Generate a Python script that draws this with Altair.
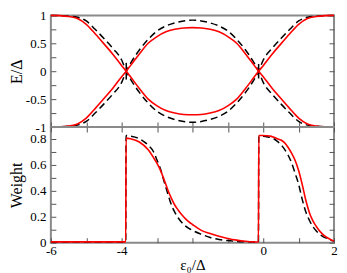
import altair as alt
import pandas as pd

# ---------------- data ----------------
# top panel: E/Delta versus eps0/Delta
x_top = [-6, -5.75, -5.5, -5.25, -5.0, -4.75, -4.5, -4.25, -4.0, -3.87, -3.75, -3.5, -3.25, -3.0,
         -2.75, -2.5, -2.25, -2.0, -1.75, -1.5, -1.25, -1.0, -0.75, -0.5, -0.25, -0.13, 0.0, 0.25,
         0.5, 0.75, 1.0, 1.25, 1.5, 1.75, 2.0]
e_red_a = [1.0, 0.995, 0.98, 0.945, 0.84, 0.67, 0.49, 0.305, 0.10, 0.0, -0.10, -0.31, -0.50, -0.62,
           -0.705, -0.75, -0.775, -0.78, -0.775, -0.75, -0.705, -0.62, -0.50, -0.31, -0.10, 0.0, 0.10,
           0.305, 0.49, 0.67, 0.84, 0.945, 0.98, 0.995, 1.0]
e_red_b = [-1.0, -0.995, -0.98, -0.945, -0.84, -0.67, -0.49, -0.305, -0.10, 0.0, 0.10, 0.31, 0.50, 0.62,
           0.705, 0.75, 0.775, 0.78, 0.775, 0.75, 0.705, 0.62, 0.50, 0.31, 0.10, 0.0, -0.10,
           -0.305, -0.49, -0.67, -0.84, -0.945, -0.98, -0.995, -1.0]
e_black_a = [1.0, 0.995, 0.985, 0.965, 0.90, 0.75, 0.585, 0.41, 0.20, 0.0, -0.14, -0.38, -0.57, -0.72,
             -0.81, -0.865, -0.90, -0.915, -0.90, -0.865, -0.81, -0.72, -0.57, -0.38, -0.14, 0.0, 0.20,
             0.41, 0.585, 0.75, 0.90, 0.965, 0.985, 0.995, 1.0]
e_black_b = [-1.0, -0.995, -0.985, -0.965, -0.90, -0.75, -0.585, -0.41, -0.20, 0.0, 0.14, 0.38, 0.57, 0.72,
             0.81, 0.865, 0.90, 0.915, 0.90, 0.865, 0.81, 0.72, 0.57, 0.38, 0.14, 0.0, -0.20,
             -0.41, -0.585, -0.75, -0.90, -0.965, -0.985, -0.995, -1.0]
# short vertical black strokes at the two crossings
x_jump_left = [-3.87, -3.87]
e_jump_left = [0.15, -0.15]
x_jump_right = [-0.13, -0.13]
e_jump_right = [0.13, -0.13]

# bottom panel: weight versus eps0/Delta
x_w_red = [-6, -5, -4.5, -3.885, -3.875, -3.75, -3.5, -3.25, -3.1, -3.0, -2.9, -2.8, -2.7, -2.6, -2.5,
           -2.4, -2.3, -2.2, -2.1, -2.0, -1.75, -1.5, -1.25, -1.0, -0.75, -0.5, -0.25, -0.135, -0.125,
           0.0, 0.1, 0.2, 0.3, 0.4, 0.5, 0.6, 0.7, 0.8, 0.9, 1.0, 1.1, 1.2, 1.3, 1.4, 1.5, 1.6, 1.7,
           1.8, 1.9, 2.0]
w_red = [0.006, 0.006, 0.006, 0.006, 0.805, 0.80, 0.775, 0.715, 0.655, 0.61, 0.555, 0.485, 0.41, 0.345,
         0.29, 0.25, 0.215, 0.185, 0.16, 0.14, 0.095, 0.07, 0.05, 0.033, 0.02, 0.011, 0.006, 0.005,
         0.825, 0.825, 0.823, 0.82, 0.812, 0.80, 0.79, 0.77, 0.735, 0.69, 0.635, 0.555, 0.45, 0.33,
         0.235, 0.17, 0.125, 0.088, 0.06, 0.04, 0.025, 0.012]
x_w_black = [-6, -5, -4.5, -3.885, -3.875, -3.75, -3.5, -3.25, -3.1, -3.0, -2.9, -2.8, -2.7, -2.6, -2.5,
             -2.4, -2.3, -2.2, -2.1, -2.0, -1.75, -1.5, -1.25, -1.0, -0.75, -0.5, -0.25, -0.135, -0.125,
             0.0, 0.1, 0.2, 0.3, 0.4, 0.5, 0.6, 0.7, 0.8, 0.9, 1.0, 1.1, 1.2, 1.3, 1.4, 1.5, 1.6, 1.7,
             1.8, 1.9, 2.0]
w_black = [0.005, 0.005, 0.005, 0.005, 0.825, 0.82, 0.80, 0.75, 0.70, 0.635, 0.565, 0.47, 0.38, 0.295,
           0.235, 0.19, 0.155, 0.13, 0.11, 0.095, 0.065, 0.04, 0.025, 0.016, 0.01, 0.007, 0.005, 0.004,
           0.82, 0.82, 0.815, 0.81, 0.80, 0.78, 0.755, 0.72, 0.675, 0.615, 0.535, 0.45, 0.335, 0.24,
           0.175, 0.125, 0.09, 0.063, 0.045, 0.033, 0.02, 0.012]

# axis tick positions / labels
x_ticks = [-6, -5, -4, -3, -2, -1, 0, 1, 2]
x_labels = [-6, -4, 0, 2]
e_ticks = [-1, -0.75, -0.5, -0.25, 0, 0.25, 0.5, 0.75, 1]
w_ticks = [0, 0.1, 0.2, 0.3, 0.4, 0.5, 0.6, 0.7, 0.8]


def rows(xs, ys, name):
    return [{"x": a, "y": b, "s": name, "i": k} for k, (a, b) in enumerate(zip(xs, ys))]


top_black = pd.DataFrame(rows(x_top, e_black_a, "ba") + rows(x_top, e_black_b, "bb"))
top_red = pd.DataFrame(rows(x_top, e_red_a, "ra") + rows(x_top, e_red_b, "rb"))
top_jump = pd.DataFrame(rows(x_jump_left, e_jump_left, "jl") + rows(x_jump_right, e_jump_right, "jr"))
bot_black = pd.DataFrame(rows(x_w_black, w_black, "wb"))
bot_red = pd.DataFrame(rows(x_w_red, w_red, "wr"))

FONT = "Liberation Serif"
RED = "#ff0000"
W = 284

x_scale = alt.Scale(domain=[-6, 2], nice=False, zero=False)
e_scale = alt.Scale(domain=[-1, 1], nice=False, zero=False)
w_scale = alt.Scale(domain=[0, 0.89], nice=False, zero=False)

tick_style = dict(domain=False, grid=False, tickSize=5, offset=-5, tickColor="#555", tickWidth=1)
y_label_style = dict(labelPadding=5, minExtent=31, maxExtent=31, titlePadding=0)

x_labels_expr = "indexof(" + str(x_labels) + ", datum.value) >= 0 ? toString(datum.value) : ''"

# ---------------- top panel ----------------
top_b = alt.Chart(top_black).mark_line(
    color="black", strokeWidth=1.5, strokeDash=[7, 4], interpolate="monotone"
).encode(
    x=alt.X("x:Q", scale=x_scale,
            axis=alt.Axis(values=x_ticks, labels=False, title=None, orient="bottom", **tick_style)),
    y=alt.Y("y:Q", scale=e_scale,
            axis=alt.Axis(values=e_ticks, orient="left", title="E/Δ",
                          labelExpr="datum.value % 0.5 == 0 ? toString(datum.value) : ''",
                          **y_label_style, **tick_style)),
    detail="s:N", order="i:Q",
)
top_j = alt.Chart(top_jump).mark_line(color="black", strokeWidth=1.5).encode(
    x=alt.X("x:Q", scale=x_scale, axis=None),
    y=alt.Y("y:Q", scale=e_scale, axis=None),
    detail="s:N", order="i:Q",
)
top_r = alt.Chart(top_red).mark_line(color=RED, strokeWidth=1.6, interpolate="monotone").encode(
    x=alt.X("x:Q", scale=x_scale, axis=None),
    y=alt.Y("y:Q", scale=e_scale,
            axis=alt.Axis(values=e_ticks, labels=False, title=None, orient="right", **tick_style)),
    detail="s:N", order="i:Q",
)
top = alt.layer(top_b, top_j, top_r).resolve_axis(x="independent", y="independent").properties(
    width=W, height=112)

# ---------------- bottom panel ----------------
bot_b = alt.Chart(bot_black).mark_line(
    color="black", strokeWidth=1.5, strokeDash=[7, 4], interpolate="monotone"
).encode(
    x=alt.X("x:Q", scale=x_scale,
            axis=alt.Axis(values=x_ticks, orient="bottom", title="ε₀/Δ", labelExpr=x_labels_expr,
                          labelFlush=False, labelPadding=2, titlePadding=0, titleFontSize=15,
                          **tick_style)),
    y=alt.Y("y:Q", scale=w_scale,
            axis=alt.Axis(values=w_ticks, orient="left", title="Weight",
                          labelExpr="round(datum.value * 10) % 2 == 0 ? toString(datum.value) : ''",
                          **y_label_style, **tick_style)),
    order="i:Q",
)
bot_r = alt.Chart(bot_red).mark_line(color=RED, strokeWidth=1.6, interpolate="monotone").encode(
    x=alt.X("x:Q", scale=x_scale,
            axis=alt.Axis(values=x_ticks, labels=False, title=None, orient="top", **tick_style)),
    y=alt.Y("y:Q", scale=w_scale,
            axis=alt.Axis(values=w_ticks, labels=False, title=None, orient="right", **tick_style)),
    order="i:Q",
)
bottom = alt.layer(bot_b, bot_r).resolve_axis(x="independent", y="independent").properties(
    width=W, height=116)

chart = alt.vconcat(top, bottom, spacing=0, bounds="flush").properties(
    padding={"left": 0, "top": 0, "right": 0, "bottom": 0}
).configure_view(
    stroke="#8a8a8a", strokeWidth=2
).configure_axis(
    labelFont=FONT, labelFontSize=13, labelColor="black",
    titleFont=FONT, titleFontSize=16, titleFontWeight="normal", titleColor="black",
)

chart.save("out.html", embed_options={"renderer": "svg", "actions": False})
